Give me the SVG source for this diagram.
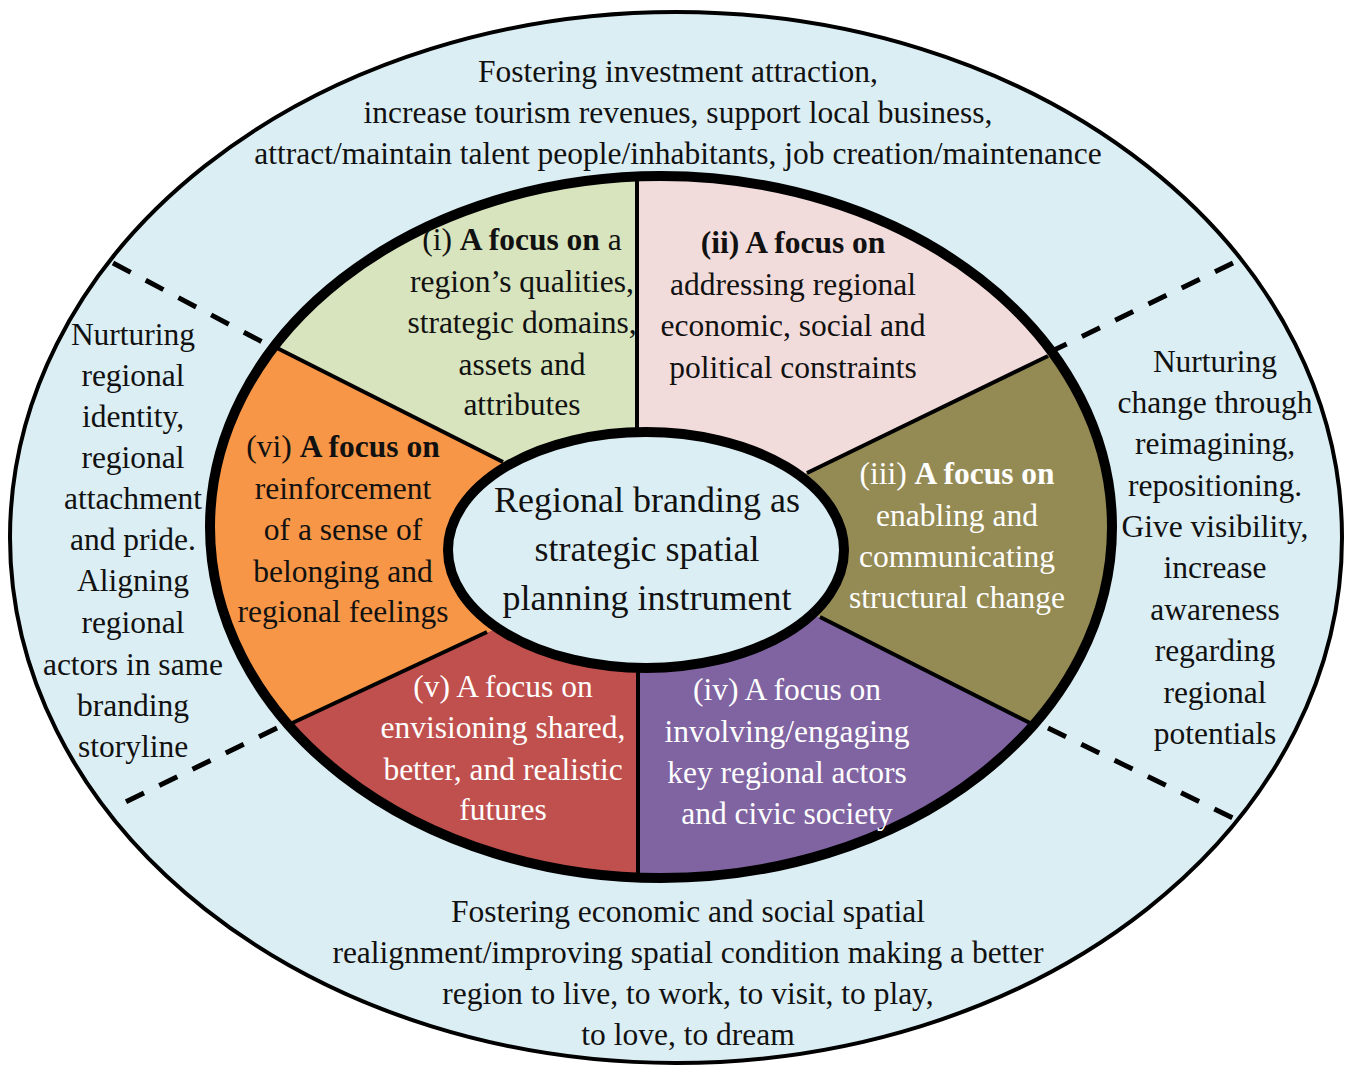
<svg xmlns="http://www.w3.org/2000/svg" width="1350" height="1067" viewBox="0 0 1350 1067">
<style>
text{font-family:"Liberation Serif","Times New Roman",serif;font-size:31.5px;text-anchor:middle;fill:#111}
.w{fill:#fff}
.b{font-weight:bold}
.c{font-size:36px}
.spoke{stroke:#000;stroke-width:4;fill:none}
.dash{stroke:#000;stroke-width:5;stroke-dasharray:20 17;fill:none}
</style>
<defs>
<clipPath id="ringClip"><ellipse cx="661" cy="527" rx="451" ry="351"/></clipPath>
</defs>
<rect width="1350" height="1067" fill="#fff"/>
<g id="outer">
<ellipse cx="676" cy="537.5" rx="666" ry="525.5" fill="#dbeef4" stroke="#000" stroke-width="4"/>
<g id="outer-top"><text x="678" y="82">Fostering investment attraction,</text><text x="678" y="123">increase tourism revenues, support local business,</text><text x="678" y="164">attract/maintain talent people/inhabitants, job creation/maintenance</text></g>
<g id="outer-bottom"><text x="688" y="922">Fostering economic and social spatial</text><text x="688" y="963">realignment/improving spatial condition making a better</text><text x="688" y="1004">region to live, to work, to visit, to play,</text><text x="688" y="1045">to love, to dream</text></g>
<g id="outer-left"><text x="133" y="345">Nurturing</text><text x="133" y="386">regional</text><text x="133" y="427">identity,</text><text x="133" y="468">regional</text><text x="133" y="509">attachment</text><text x="133" y="550">and pride.</text><text x="133" y="591">Aligning</text><text x="133" y="633">regional</text><text x="133" y="675">actors in same</text><text x="133" y="716">branding</text><text x="133" y="757">storyline</text></g>
<g id="outer-right"><text x="1215" y="372">Nurturing</text><text x="1215" y="413">change through</text><text x="1215" y="454">reimagining,</text><text x="1215" y="496">repositioning.</text><text x="1215" y="537">Give visibility,</text><text x="1215" y="578">increase</text><text x="1215" y="620">awareness</text><text x="1215" y="661">regarding</text><text x="1215" y="703">regional</text><text x="1215" y="744">potentials</text></g>
</g>
<g id="connectors">
<path class="dash" d="M113 263 L270 346"/>
<path class="dash" d="M1233 263 L1050 352"/>
<path class="dash" d="M277 728 L113 808"/>
<path class="dash" d="M1048 728 L1233 818"/>
</g>
<g id="ring" clip-path="url(#ringClip)">
<polygon id="seg-i" points="521,471 1,209 0,0 637,0 637,460" fill="#d7e4bd"/>
<polygon id="seg-ii" points="637,460 637,0 1350,0 1349,210 788,482" fill="#f2dcdb"/>
<polygon id="seg-iii" points="788,482 1349,210 1345,882 803,609" fill="#948a54"/>
<polygon id="seg-iv" points="803,609 1345,882 1350,1067 638,1067 638,645" fill="#8064a2"/>
<polygon id="seg-v" points="638,645 638,1067 0,1067 9,855 503,625" fill="#c0504d"/>
<polygon id="seg-vi" points="503,625 9,855 1,209 521,471" fill="#f79646"/>
</g>
<g id="spokes">
<line class="spoke" x1="637" y1="437" x2="637" y2="176"/>
<line class="spoke" x1="807" y1="473" x2="1048" y2="356"/>
<line class="spoke" x1="820" y1="617" x2="1030" y2="723"/>
<line class="spoke" x1="638" y1="668" x2="638" y2="878"/>
<line class="spoke" x1="487" y1="632" x2="288" y2="725"/>
<line class="spoke" x1="503" y1="462" x2="275" y2="347"/>
</g>
<ellipse cx="661" cy="527" rx="451" ry="351" fill="none" stroke="#000" stroke-width="10"/>
<g id="center">
<ellipse cx="646" cy="550" rx="198" ry="118" fill="#dbeef4" stroke="#000" stroke-width="10"/>
<text class="c" x="647" y="512">Regional branding as</text><text class="c" x="647" y="561">strategic spatial</text><text class="c" x="647" y="610">planning instrument</text>
</g>
<g id="node-i"><text x="522" y="250">(i) <tspan class="b">A focus on</tspan> a</text><text x="522" y="292">region’s qualities,</text><text x="522" y="333">strategic domains,</text><text x="522" y="375">assets and</text><text x="522" y="415">attributes</text></g>
<g id="node-ii"><text class="b" x="793" y="253">(ii) A focus on</text><text x="793" y="295">addressing regional</text><text x="793" y="336">economic, social and</text><text x="793" y="378">political constraints</text></g>
<g id="node-iii"><text class="w" x="957" y="484">(iii) <tspan class="b">A focus on</tspan></text><text class="w" x="957" y="526">enabling and</text><text class="w" x="957" y="567">communicating</text><text class="w" x="957" y="608">structural change</text></g>
<g id="node-iv"><text class="w" x="787" y="700">(iv) A focus on</text><text class="w" x="787" y="742">involving/engaging</text><text class="w" x="787" y="783">key regional actors</text><text class="w" x="787" y="824">and civic society</text></g>
<g id="node-v"><text class="w" x="503" y="697">(v) A focus on</text><text class="w" x="503" y="738">envisioning shared,</text><text class="w" x="503" y="780">better, and realistic</text><text class="w" x="503" y="820">futures</text></g>
<g id="node-vi"><text x="343" y="457">(vi) <tspan class="b">A focus on</tspan></text><text x="343" y="499">reinforcement</text><text x="343" y="540">of a sense of</text><text x="343" y="582">belonging and</text><text x="343" y="622">regional feelings</text></g>
</svg>
